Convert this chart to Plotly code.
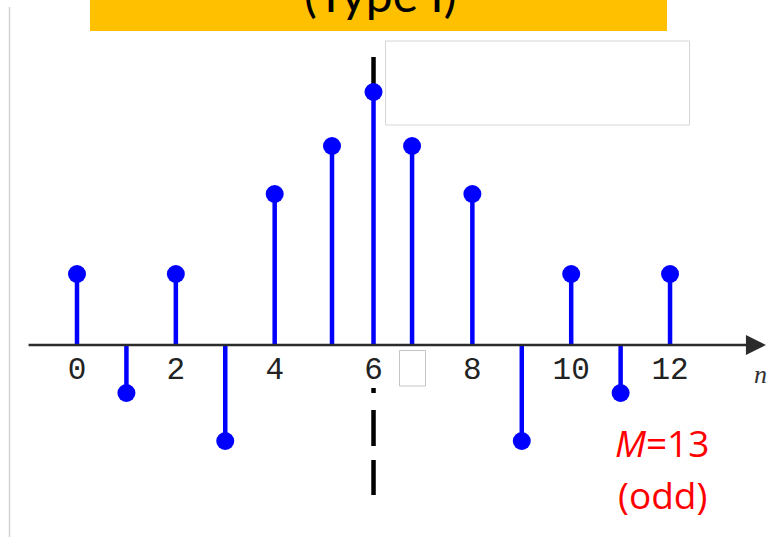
import plotly.graph_objects as go

# Impulse response of a symmetric (Type I) linear-phase FIR filter, M = 13
n_index = list(range(13))
stem_x = [0, 1, 2, 3, 4, 5.16, 6, 6.78, 8, 9, 10, 11, 12]
h_values = [1.42, -0.96, 1.42, -1.92, 3.02, 3.98, 5.06, 3.98, 3.02, -1.92, 1.42, -0.96, 1.42]
tick_values = [0, 2, 4, 6, 8, 10, 12]
tick_labels = ["0", "2", "4", "6", "8", "10", "12"]
filter_length = 13
center_n = (filter_length - 1) / 2

# Canvas geometry
W, H = 767, 537
X0_PX, PX_PER_N = 77, 49.42
BASE_PX, PX_PER_UNIT = 345, 50.0
x_range = [-X0_PX / PX_PER_N, (W - X0_PX) / PX_PER_N]
y_range = [-(H - BASE_PX) / PX_PER_UNIT, BASE_PX / PX_PER_UNIT]


def px_x(px):
    return px / W


def px_y(py):
    return 1 - py / H


BLUE = "#0000ff"

fig = go.Figure()

# symmetry line through the centre sample
fig.add_trace(go.Scatter(
    x=[center_n, center_n], y=[-3.0, -0.86], mode="lines",
    line=dict(color="black", width=4.5, dash="35px,14px,36px,17px,5px,80px"),
    hoverinfo="skip"))
fig.add_trace(go.Scatter(
    x=[center_n, center_n], y=[4.9, 5.76], mode="lines",
    line=dict(color="black", width=4.5), hoverinfo="skip"))

# stems
sx, sy = [], []
for xv, hv in zip(stem_x, h_values):
    sx += [xv, xv, None]
    sy += [0, hv, None]
fig.add_trace(go.Scatter(x=sx, y=sy, mode="lines",
                         line=dict(color=BLUE, width=4.5), hoverinfo="skip"))

# stem heads
fig.add_trace(go.Scatter(x=stem_x, y=h_values, mode="markers",
                         marker=dict(color=BLUE, size=18, line=dict(width=0)),
                         customdata=n_index,
                         hovertemplate="n=%{customdata}<br>h=%{y}<extra></extra>"))

shapes = [
    # title banner
    dict(type="rect", xref="paper", yref="paper",
         x0=px_x(90), x1=px_x(667), y0=px_y(31), y1=1.0,
         fillcolor="#ffc000", line=dict(width=0), layer="above"),
    # left page edge
    dict(type="line", xref="paper", yref="paper",
         x0=px_x(9.5), x1=px_x(9.5), y0=0, y1=px_y(7),
         line=dict(color="#d4d4d4", width=1.5)),
    # empty boxes
    dict(type="rect", xref="paper", yref="paper",
         x0=px_x(385.5), x1=px_x(689.5), y0=px_y(125), y1=px_y(41),
         fillcolor="white", line=dict(color="#d6d6d6", width=1), layer="above"),
    dict(type="rect", xref="paper", yref="paper",
         x0=px_x(399.5), x1=px_x(425.5), y0=px_y(386), y1=px_y(350.5),
         fillcolor="white", line=dict(color="#c4c4c4", width=1), layer="above"),
]

annotations = [
    # horizontal axis with arrow
    dict(x=13.94, y=0, ax=-1.01, ay=0, xref="x", yref="y", axref="x", ayref="y",
         text="", showarrow=True, arrowhead=2, arrowsize=1.6, arrowwidth=2.5,
         arrowcolor="#2b2b2b"),
    dict(x=px_x(760), y=px_y(374), xref="paper", yref="paper",
         xanchor="center", yanchor="middle",
         text="<i>n</i>", showarrow=False,
         font=dict(family="Liberation Serif", size=26, color="#333333")),
    dict(x=px_x(380), y=px_y(24), xref="paper", yref="paper",
         xanchor="center", yanchor="bottom",
         text="(Type I)", showarrow=False,
         font=dict(family="Lato", size=48, color="black")),
    dict(x=px_x(662), y=px_y(442), xref="paper", yref="paper",
         xanchor="center", yanchor="middle",
         text="<i>M</i>=13", showarrow=False,
         font=dict(family="Open Sans", size=37, color="#ff0000")),
    dict(x=px_x(662), y=px_y(494), xref="paper", yref="paper",
         xanchor="center", yanchor="middle",
         text="(odd)", showarrow=False,
         font=dict(family="Open Sans", size=37, color="#ff0000")),
]

fig.update_layout(
    width=W, height=H,
    margin=dict(l=0, r=0, t=0, b=0),
    paper_bgcolor="white", plot_bgcolor="white",
    showlegend=False,
    xaxis=dict(range=x_range, anchor="free", position=px_y(BASE_PX),
               showgrid=False, zeroline=False, showline=False, ticks="",
               tickvals=tick_values, ticktext=tick_labels, ticklabelstandoff=2,
               tickfont=dict(family="Liberation Mono", size=31, color="#222222")),
    yaxis=dict(range=y_range, visible=False),
    shapes=shapes,
    annotations=annotations,
)

fig.write_html("out.html")
